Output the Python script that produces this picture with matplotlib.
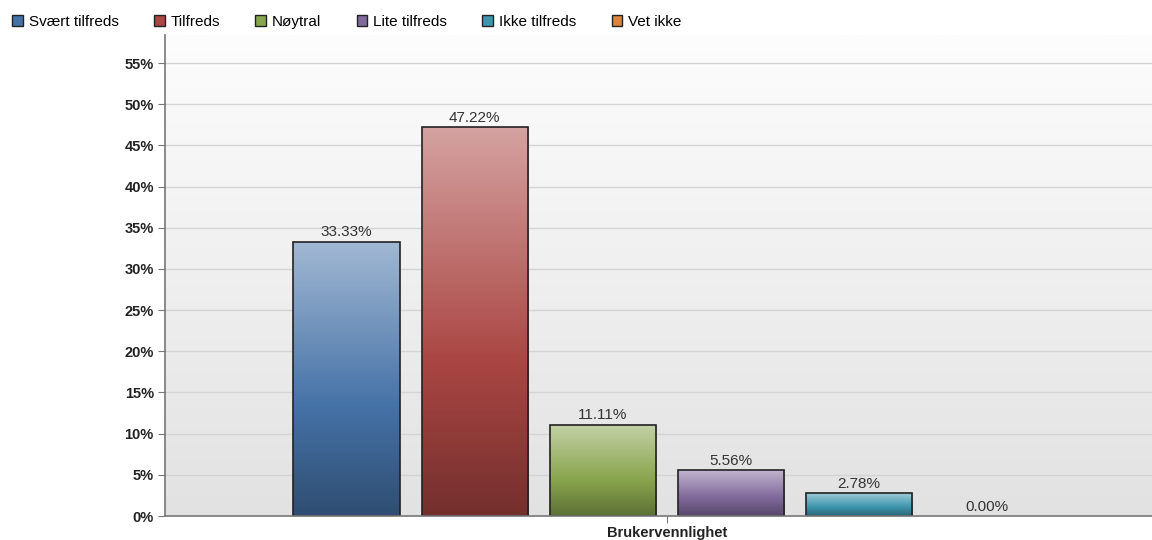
import numpy as np
import matplotlib.pyplot as plt
from matplotlib.colors import to_rgb, LinearSegmentedColormap
from matplotlib.patches import Patch

plt.rcParams['font.family'] = ['Liberation Sans', 'DejaVu Sans']

# Data
categories = ['Svært tilfreds', 'Tilfreds', 'Nøytral', 'Lite tilfreds', 'Ikke tilfreds', 'Vet ikke']
values = [33.33, 47.22, 11.11, 5.56, 2.78, 0.00]
colors = ['#4572a7', '#aa4643', '#89a54e', '#80699b', '#3d96ae', '#db843d']
group_label = 'Brukervennlighet'
yticks = list(range(0, 60, 5))

fig = plt.figure(figsize=(11.52, 5.4), dpi=100)
ax = fig.add_axes([0.1432, 0.0444, 0.857, 0.8907])

# bakgrunn med gradient
bg = np.linspace(0, 1, 256).reshape(-1, 1)
bg_cmap = LinearSegmentedColormap.from_list('bg', ['#e2e2e2', '#fdfdfd'])
ax.imshow(bg, cmap=bg_cmap, aspect='auto', extent=[0, 1, 0, 1],
          transform=ax.transAxes, origin='lower', zorder=0)

x = np.arange(len(values))
width = 0.83
bars = ax.bar(x, values, width=width, color='none', edgecolor='#222222',
              linewidth=1.2, zorder=3)


def bar_cmap(c):
    base = np.array(to_rgb(c))
    light = base + (1 - base) * 0.5
    dark = base * 0.68
    return LinearSegmentedColormap.from_list('g', [(0, dark), (0.4, base), (1, light)])


grad = np.linspace(0, 1, 256).reshape(-1, 1)
for b, c, v in zip(bars, colors, values):
    if v <= 0:
        b.set_edgecolor('none')
    else:
        im = ax.imshow(grad, cmap=bar_cmap(c), aspect='auto', origin='lower',
                       extent=[b.get_x(), b.get_x() + b.get_width(), 0, b.get_height()],
                       zorder=2)
        im.set_clip_path(b)
    ax.text(b.get_x() + b.get_width() / 2, v + 0.3, f'{v:.2f}%', ha='center',
            va='bottom', fontsize=11, color='#333333', zorder=4)

ax.set_xlim(-1.418, 6.29)
ax.set_ylim(0, 58.4)
ax.set_yticks(yticks)
ax.set_yticklabels([f'{t}%' for t in yticks], fontweight='bold', fontsize=10.5, color='#222222')
ax.set_xticks([(len(values) - 1) / 2])
ax.set_xticklabels([group_label], fontweight='bold', fontsize=10.5, color='#222222')
ax.tick_params(axis='y', length=5, color='#777777', pad=3)
ax.tick_params(axis='x', length=5, color='#777777', pad=2)
ax.grid(axis='y', color='#d4d4d4', linewidth=1, zorder=1)
ax.set_axisbelow(True)
for s in ['top', 'right']:
    ax.spines[s].set_visible(False)
for s in ['left', 'bottom']:
    ax.spines[s].set_color('#777777')
    ax.spines[s].set_linewidth(1.2)
    ax.spines[s].set_zorder(5)

handles = [Patch(facecolor=c, edgecolor='#222222', linewidth=1) for c in colors]
fig.legend(handles, categories, loc='center left', bbox_to_anchor=(0.0105, 0.959),
           ncol=6, frameon=False, fontsize=11, handlelength=0.7, handleheight=0.7,
           handletextpad=0.4, columnspacing=2.3, borderaxespad=0, borderpad=0)

fig.savefig('out.png', dpi=100)
